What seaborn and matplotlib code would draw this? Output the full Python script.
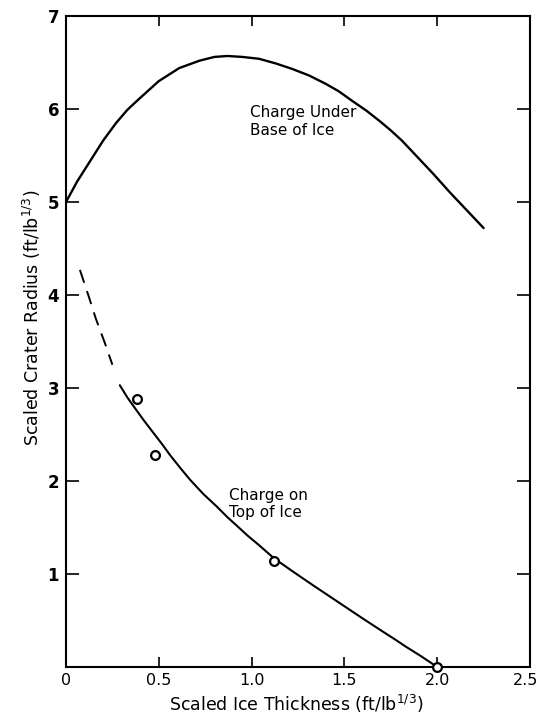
import matplotlib
matplotlib.use("Agg")
import matplotlib.pyplot as plt
import matplotlib.transforms as mtransforms
import seaborn as sns
import pandas as pd

# ---- data ----
base_x = [0.0, 0.06, 0.13, 0.20, 0.27, 0.33, 0.40, 0.50, 0.61, 0.72, 0.80, 0.87, 0.95,
          1.04, 1.13, 1.22, 1.31, 1.40, 1.47, 1.54, 1.62, 1.69, 1.75, 1.81, 1.90,
          1.98, 2.07, 2.16, 2.25]
base_y = [5.0, 5.22, 5.44, 5.66, 5.85, 5.99, 6.12, 6.30, 6.44, 6.52, 6.56, 6.57, 6.56,
          6.54, 6.49, 6.43, 6.36, 6.27, 6.19, 6.09, 5.98, 5.87, 5.77, 5.66, 5.47,
          5.30, 5.10, 4.91, 4.72]

top_dash_x = [0.075, 0.12, 0.16, 0.21, 0.25]
top_dash_y = [4.27, 4.00, 3.75, 3.48, 3.25]

top_x = [0.29, 0.33, 0.38, 0.42, 0.47, 0.52, 0.56, 0.62, 0.67, 0.74, 0.81, 0.87, 0.92,
         0.98, 1.04, 1.12, 1.22, 1.33, 1.42, 1.51, 1.60, 1.70, 1.77, 1.83, 1.91, 2.0]
top_y = [3.03, 2.90, 2.76, 2.65, 2.52, 2.39, 2.28, 2.13, 2.01, 1.86, 1.73, 1.61, 1.52,
         1.41, 1.31, 1.17, 1.03, 0.88, 0.76, 0.64, 0.52, 0.39, 0.30, 0.22, 0.12, 0.0]

pts_x = [0.385, 0.48, 1.12, 2.0]
pts_y = [2.88, 2.28, 1.14, 0.0]

x_ticks = [0, 0.5, 1.0, 1.5, 2.0, 2.5]
x_ticklabels = ["0", "0.5", "1.0", "1.5", "2.0", "2.5"]
y_ticks = [1, 2, 3, 4, 5, 6, 7]
y_ticklabels = ["1", "2", "3", "4", "5", "6", "7"]

label_base = "Charge Under\nBase of Ice"
label_top = "Charge on\nTop of Ice"
xlabel = r"Scaled Ice Thickness (ft/lb$^{1/3}$)"
ylabel = r"Scaled Crater Radius (ft/lb$^{1/3}$)"

# ---- plotting ----
sns.set_theme(style="ticks")
plt.rcParams["font.family"] = ["DejaVu Sans"]
plt.rcParams["mathtext.fontset"] = "dejavusans"
plt.rcParams["text.color"] = "black"
plt.rcParams["axes.labelcolor"] = "black"
plt.rcParams["xtick.color"] = "black"
plt.rcParams["ytick.color"] = "black"

fig = plt.figure(figsize=(5.4, 7.15), dpi=100)
ax = fig.add_axes([66 / 540, (715 - 667) / 715, (530 - 66) / 540, (667 - 16) / 715])

df_base = pd.DataFrame({"x": base_x, "y": base_y})
df_dash = pd.DataFrame({"x": top_dash_x, "y": top_dash_y})
df_top = pd.DataFrame({"x": top_x, "y": top_y})
df_pts = pd.DataFrame({"x": pts_x, "y": pts_y})

sns.lineplot(data=df_base, x="x", y="y", sort=False, estimator=None,
             color="black", lw=1.7, ax=ax)
sns.lineplot(data=df_dash, x="x", y="y", sort=False, estimator=None,
             color="black", lw=1.4, ax=ax, linestyle=(0, (7, 4.5)))
sns.lineplot(data=df_top, x="x", y="y", sort=False, estimator=None,
             color="black", lw=1.5, ax=ax)
sns.scatterplot(data=df_pts, x="x", y="y", ax=ax, marker="o", s=40,
                facecolor="white", edgecolor="black", linewidth=1.6,
                zorder=5, clip_on=False)

ax.text(0.99, 6.04, label_base, fontsize=11, va="top", ha="left",
        linespacing=1.2, color="black")
ax.text(0.88, 1.92, label_top, fontsize=11, va="top", ha="left",
        linespacing=1.15, color="black")

ax.set_xlim(0, 2.5)
ax.set_ylim(0, 7)
ax.set_xticks(x_ticks)
ax.set_xticklabels(x_ticklabels, fontsize=11.5)
ax.set_yticks(y_ticks)
ax.set_yticklabels(y_ticklabels, fontsize=12, fontweight="bold")
ax.tick_params(axis="x", direction="in", length=7, width=1.2, color="black",
               top=True, pad=4)
ax.tick_params(axis="y", direction="in", length=9.5, width=1.2, color="black",
               right=True, pad=5)
# nudge the last x tick label so it stays inside the figure
lbls = ax.get_xticklabels()
lbls[-1].set_transform(lbls[-1].get_transform() +
                       mtransforms.ScaledTranslation(-4 / 100, 0, fig.dpi_scale_trans))
for sp in ax.spines.values():
    sp.set_visible(True)
    sp.set_color("black")
    sp.set_linewidth(1.5)

ax.set_xlabel(xlabel, fontsize=12.5)
ax.xaxis.set_label_coords((296 - 66) / 464, -(704 - 667) / 651)
ax.xaxis.label.set_va("center")
ax.set_ylabel(ylabel, fontsize=12.5)
ax.yaxis.set_label_coords(-(66 - 32) / 464, (667 - 318) / 651)
ax.yaxis.label.set_va("center")

fig.savefig("out.png", dpi=100, facecolor="white")
